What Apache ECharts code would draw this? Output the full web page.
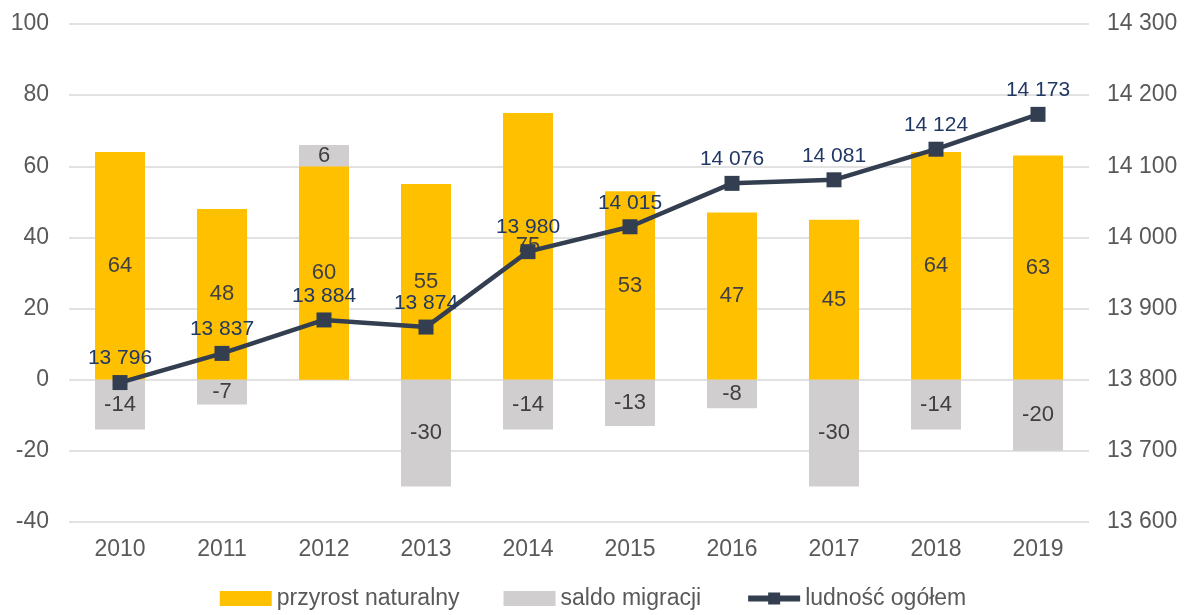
<!DOCTYPE html>
<html>
<head>
<meta charset="utf-8">
<script src="https://cdn.jsdelivr.net/npm/echarts@6/dist/echarts.min.js"></script>
<style>
  html, body { margin: 0; padding: 0; background: #fff; }
  #chart { width: 1186px; height: 615px; }
</style>
</head>
<body>
<div id="chart"></div>
<script>
const years = ['2010', '2011', '2012', '2013', '2014', '2015', '2016', '2017', '2018', '2019'];
const przyrost = [64, 48, 60, 55, 75, 53, 47, 45, 64, 63];
const saldo = [-14, -7, 6, -30, -14, -13, -8, -30, -14, -20];
const ludnosc = [13796, 13837, 13884, 13874, 13980, 14015, 14076, 14081, 14124, 14173];

// liczby z odstępem tysięcy, np. 13 796
function fmt(v) {
  return String(v).replace(/\B(?=(\d{3})+(?!\d))/g, ' ');
}

const myChart = echarts.init(document.getElementById('chart'));
const font = 'Liberation Sans, Arial, sans-serif';

const options = {
  animation: false,
  textStyle: { fontFamily: font },
  grid: { left: 69, right: 97, top: 24, bottom: 93 },
  legend: {
    bottom: 0,
    left: 'center',
    itemGap: 44,
    itemWidth: 52,
    itemHeight: 15,
    textStyle: { fontSize: 23, color: '#595959', fontFamily: font },
    data: [
      { name: 'przyrost naturalny', icon: 'rect' },
      { name: 'saldo migracji', icon: 'rect' },
      {
        name: 'ludność ogółem',
        itemStyle: { color: '#333F50' },
        lineStyle: { color: '#333F50', width: 6 }
      }
    ]
  },
  xAxis: {
    type: 'category',
    data: years,
    axisLine: { show: false },
    axisTick: { show: false },
    axisLabel: { fontSize: 23, color: '#595959', margin: 16 }
  },
  yAxis: [
    {
      type: 'value',
      min: -40,
      max: 100,
      interval: 20,
      axisLine: { show: false },
      axisTick: { show: false },
      axisLabel: { fontSize: 23, color: '#595959', margin: 20 },
      splitLine: { lineStyle: { color: '#D9D9D9', width: 1.5 } }
    },
    {
      type: 'value',
      min: 13600,
      max: 14300,
      interval: 100,
      axisLine: { show: false },
      axisTick: { show: false },
      axisLabel: { fontSize: 23, color: '#595959', margin: 18, formatter: fmt },
      splitLine: { show: false }
    }
  ],
  series: [
    {
      name: 'przyrost naturalny',
      type: 'bar',
      stack: 'a',
      barWidth: '49%',
      itemStyle: { color: '#FFC000' },
      label: { show: true, position: 'inside', fontSize: 22, color: '#404040' },
      data: przyrost
    },
    {
      name: 'saldo migracji',
      type: 'bar',
      stack: 'a',
      itemStyle: { color: '#D0CECE' },
      label: { show: true, position: 'inside', fontSize: 22, color: '#404040' },
      data: saldo
    },
    {
      name: 'ludność ogółem',
      type: 'line',
      yAxisIndex: 1,
      symbol: 'rect',
      symbolSize: 15,
      lineStyle: { color: '#333F50', width: 4.5 },
      itemStyle: { color: '#333F50' },
      label: {
        show: true,
        position: 'top',
        distance: 6,
        fontSize: 21,
        color: '#203864',
        formatter: p => fmt(p.value)
      },
      z: 5,
      data: ludnosc
    }
  ]
};
myChart.setOption(options);
</script>
</body>
</html>
